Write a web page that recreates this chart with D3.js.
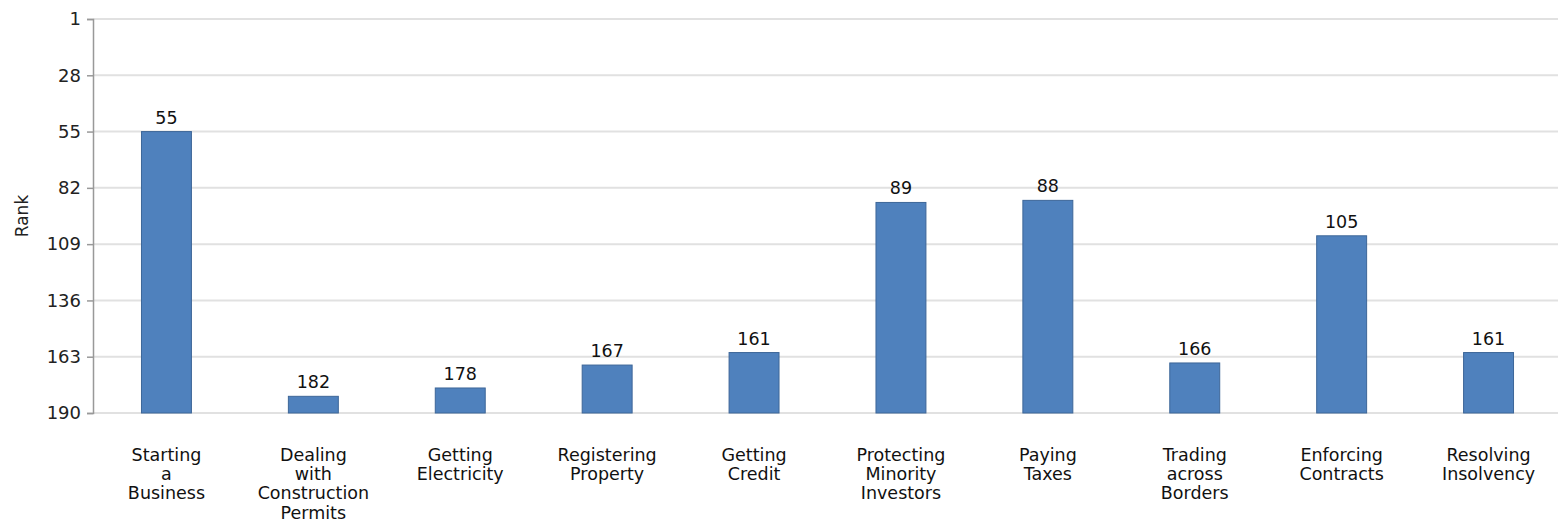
<!DOCTYPE html>
<html>
<head>
<meta charset="utf-8">
<script src="https://cdn.jsdelivr.net/npm/d3@7"></script>
<style>
  body { margin: 0; background: #fff; }
  svg { display: block; font-family: "DejaVu Sans", sans-serif; }
</style>
</head>
<body>
<svg id="chart" width="1558" height="522"></svg>
<script>
const categories = [
  ['Starting', 'a', 'Business'],
  ['Dealing', 'with', 'Construction', 'Permits'],
  ['Getting', 'Electricity'],
  ['Registering', 'Property'],
  ['Getting', 'Credit'],
  ['Protecting', 'Minority', 'Investors'],
  ['Paying', 'Taxes'],
  ['Trading', 'across', 'Borders'],
  ['Enforcing', 'Contracts'],
  ['Resolving', 'Insolvency'],
];
const ranks = [55, 182, 178, 167, 161, 89, 88, 166, 105, 161];
const yTicks = [1, 28, 55, 82, 109, 136, 163, 190];

const width = 1558;
const height = 522;
const margin = { top: 19, right: -4, bottom: 109, left: 93 };

const svg = d3.select('#chart');
const keys = categories.map(d => d.join(' '));

const x = d3
  .scaleBand()
  .domain(keys)
  .range([margin.left, width - margin.right])
  .paddingInner(0.66)
  .paddingOuter(0.33);

// rank 1 at the top, worst rank at the bottom
const y = d3
  .scaleLinear()
  .domain([1, 190])
  .range([margin.top, height - margin.bottom]);

// grid
svg
  .append('g')
  .selectAll('line')
  .data(yTicks)
  .enter()
  .append('line')
  .attr('x1', margin.left)
  .attr('x2', width)
  .attr('y1', d => y(d))
  .attr('y2', d => y(d))
  .attr('stroke', '#e1e1e1')
  .attr('stroke-width', 2);

// y axis
const yAxis = svg
  .append('g')
  .attr('transform', `translate(${margin.left},0)`)
  .call(d3.axisLeft(y).tickValues(yTicks).tickSize(6).tickPadding(6));
yAxis.select('.domain').attr('stroke', '#999').attr('stroke-width', 1.5);
yAxis.selectAll('.tick line').attr('stroke', '#999').attr('stroke-width', 1.5);
yAxis
  .selectAll('.tick text')
  .attr('fill', '#222')
  .style('font-size', '18px')
  .style('font-family', '"DejaVu Sans", sans-serif');

svg
  .append('text')
  .attr('transform', `translate(28, ${(margin.top + height - margin.bottom) / 2}) rotate(-90)`)
  .attr('text-anchor', 'middle')
  .style('font-size', '17px')
  .attr('fill', '#222')
  .text('Rank');

// bars
svg
  .append('g')
  .selectAll('rect')
  .data(ranks)
  .enter()
  .append('rect')
  .attr('x', (d, i) => x(keys[i]))
  .attr('width', x.bandwidth())
  .attr('y', d => y(d))
  .attr('height', d => y(190) - y(d))
  .attr('fill', '#4f81bd')
  .attr('stroke', '#3d6698')
  .attr('stroke-width', 1);

// value labels
svg
  .append('g')
  .selectAll('text')
  .data(ranks)
  .enter()
  .append('text')
  .attr('x', (d, i) => x(keys[i]) + x.bandwidth() / 2)
  .attr('y', d => y(d) - 8)
  .attr('text-anchor', 'middle')
  .style('font-size', '17.5px')
  .attr('fill', '#111')
  .text(d => d);

// category labels
const cat = svg
  .append('g')
  .selectAll('text')
  .data(categories)
  .enter()
  .append('text')
  .attr('text-anchor', 'middle')
  .style('font-size', '17.5px')
  .attr('fill', '#111')
  .attr('transform', (d, i) => `translate(${x(keys[i]) + x.bandwidth() / 2}, 461)`);
cat
  .selectAll('tspan')
  .data(d => d)
  .enter()
  .append('tspan')
  .attr('x', 0)
  .attr('dy', (d, i) => (i === 0 ? 0 : 19.2))
  .text(d => d);
</script>
</body>
</html>
